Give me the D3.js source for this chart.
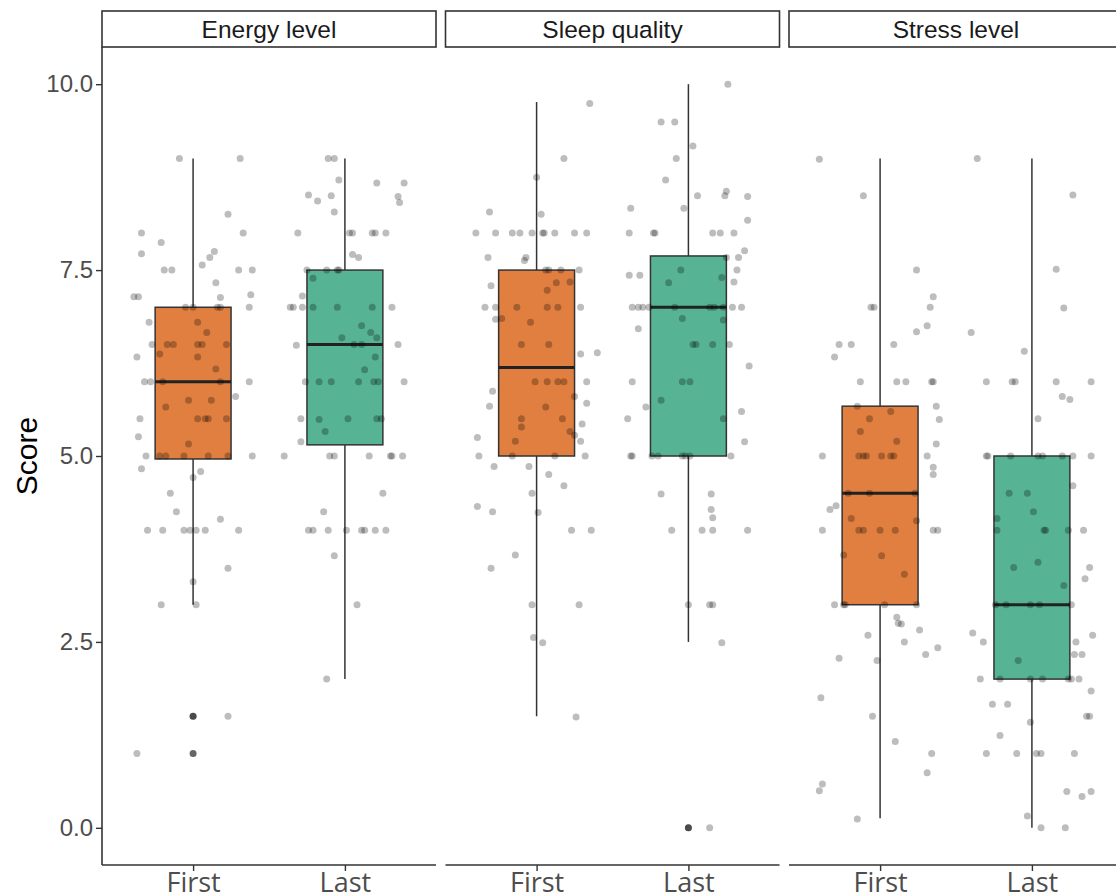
<!DOCTYPE html>
<html>
<head>
<meta charset="utf-8">
<script src="https://cdn.jsdelivr.net/npm/d3@7"></script>
<style>
  body { margin: 0; background: #fff; }
  svg { display: block; font-family: "Liberation Sans", Arial, sans-serif; }
</style>
</head>
<body>
<svg id="chart"></svg>
<script>
// facets and groups
var facets = ["Energy level", "Sleep quality", "Stress level"];
var times = ["First", "Last"];
var yTicks = [0, 2.5, 5, 7.5, 10];

// box statistics, order: facet x time
var whiskerLow  = [3.0, 2.0, 1.5, 2.5, 0.13, 0.0];
var boxQ1       = [4.96, 5.15, 5.0, 5.0, 3.0, 2.0];
var boxMedian   = [6.0, 6.5, 6.19, 7.0, 4.5, 3.0];
var boxQ3       = [7.0, 7.5, 7.5, 7.69, 5.67, 5.0];
var whiskerHigh = [9.0, 9.0, 9.76, 10.0, 9.0, 9.0];
var outliers    = [[1.5, 1.0], [], [], [0.0], [], []];

// jittered scores: [score, jitter in % of category step]
var energyFirst = [[9,-9],[9,31],[8.25,23],[8,-34],[8,33],[7.87,-21],[7.72,-34],[7.75,14],[7.67,11],[7.57,6],
  [7.5,-19],[7.5,-14],[7.5,30],[7.5,39],[7.33,15],[7.13,18],[7.17,38],[7.14,-39],[7.14,-36],[7,-5],[7,0],[7,16],
  [7,18],[7,37],[6.8,-29],[6.8,3],[6.66,9],[6.5,-27],[6.5,-17],[6.5,-13],[6.5,3],[6.5,6],[6.5,22],[6.37,-22],
  [6.33,3],[6.33,-37],[6.17,15],[6,-32],[6,-28],[6,-20],[6,18],[6,37],[5.8,28],[5.66,-18],[5.75,-3],[5.75,12],
  [5.5,-35],[5.5,3],[5.5,8],[5.5,10],[5.5,22],[5.26,-36],[5.16,-3],[5,-31],[5,-22],[5,-18],[5,-6],[5,10],[5,23],
  [5,39],[4.83,-34],[4.79,5],[4.71,0],[4.5,-15],[4.25,-11],[4.15,18],[4,-30],[4,-20],[4,-6],[4,-2],[4,2],[4,8],
  [4,30],[3.49,23],[3.31,0],[3,-21],[3,2],[1.5,0],[1.5,23],[1,-37]];
var energyLast = [[9,-11],[9,-7],[8.71,-4],[8.67,21],[8.67,39],[8.51,-24],[8.5,-9],[8.43,-18],[8.49,35],[8.41,36],
  [8.28,-7],[8,-31],[8,3],[8,5],[8,18],[8,20],[8,27],[7.71,5],[7.67,9],[7.5,-25],[7.5,-12],[7.5,-5],[7.5,-4],
  [7.39,-21],[7.15,-28],[7,-36],[7,-34],[7,-28],[7,-21],[7,-5],[7,18],[7,31],[6.75,11],[6.66,17],[6.59,21],
  [6.59,-2],[6.49,-32],[6.5,6],[6.5,11],[6.5,35],[6.33,20],[6.16,13],[6,-26],[6,-17],[6,-9],[6,9],[6,19],[6,22],
  [6,39],[5.5,-29],[5.49,-17],[5.5,2],[5.5,21],[5.5,24],[5.33,-13],[5.19,-29],[5,-40],[5,-10],[5,-7],[5,16],
  [5,30],[5,31],[5,38],[4.5,25],[4.25,-14],[4,-24],[4,-21],[4,-11],[4,1],[4,11],[4,13],[4,20],[4,27],[3.66,-7],
  [3,8],[2,-12]];
var sleepFirst = [[9.74,35],[9,18],[8.75,0],[8.28,-31],[8.25,3],[8,-40],[8,-27],[8,-16],[8,-11],[8,-3],[8,4],[8,5],
  [8,12],[8,25],[8,33],[7.67,-32],[7.67,-7],[7.63,-8],[7.5,6],[7.5,8],[7.5,16],[7.5,28],[7.29,-30],[7.33,13],
  [7.34,22],[7.23,7],[7,-34],[7,-27],[7,-13],[7,7],[7,14],[7,29],[6.84,-27],[6.85,-23],[6.8,-4],[6.5,-10],[6.5,8],
  [6.37,29],[6.39,40],[6,-1],[6,7],[6,14],[6,18],[6,33],[5.87,-29],[5.8,25],[5.67,-31],[5.66,6],[5.71,33],
  [5.5,-10],[5.5,17],[5.39,-10],[5.43,30],[5.33,22],[5.28,25],[5.25,-39],[5.2,-14],[5.2,29],[5,-38],[5,-16],
  [5,12],[5,32],[4.86,-28],[4.86,-5],[4.75,8],[4.6,18],[4.5,-3],[4.32,-39],[4.25,-29],[4.24,1],[4,23],[4,36],
  [3.67,-14],[3.49,-30],[3,-3],[3,28],[2.56,-2],[2.49,4],[1.49,26]];
var sleepLast = [[10,26],[9.49,-18],[9.49,-9],[9.17,3],[9,-8],[8.71,-15],[8.56,25],[8.5,24],[8.5,6],[8.49,39],
  [8.33,-38],[8.33,-3],[8.17,39],[8,-39],[8,-23],[8,-22],[8,16],[8,21],[8,30],[7.76,37],[7.67,25],[7.67,33],
  [7.43,-39],[7.43,-32],[7.5,-5],[7.5,32],[7.33,-13],[7.4,22],[7.34,30],[7,-37],[7,-33],[7,-30],[7,-26],[7,-9],
  [7,14],[7,17],[7,23],[7,29],[7,35],[6.71,-33],[6.85,-4],[6.83,23],[6.5,3],[6.5,5],[6.5,16],[6.5,27],[6.21,40],
  [6,-37],[6,-4],[6,1],[5.75,-18],[5.66,-28],[5.5,-40],[5.5,23],[5.6,35],[5.19,37],[5,-38],[5,-37],[5,-24],
  [5,-20],[5,-4],[5,-2],[5,1],[5,28],[4.49,-18],[4.49,15],[4.28,15],[4.17,16],[4,-11],[4,9],[4,16],[4,39],
  [3,0],[3,14],[3,16],[2.49,22],[0,0],[0,14]];
var stressFirst = [[8.99,-40],[8.5,-11],[7.5,24],[7.14,35],[7,33],[7,-6],[7,-4],[6.75,31],[6.67,24],[6.5,-27],
  [6.5,-19],[6.5,9],[6.33,-30],[6,-13],[6,11],[6,17],[6,34],[6,35],[5.67,-15],[5.67,37],[5.49,39],[5.5,-7],
  [5.6,7],[5.33,-13],[5.2,11],[5.16,37],[5,-38],[5,-14],[5,-11],[5,-9],[5,1],[5,7],[5,9],[5,31],[4.85,35],
  [4.75,35],[4.5,-21],[4.5,-7],[4.5,23],[4.28,-33],[4.33,-29],[4.16,-19],[4.13,24],[4,-38],[4,-14],[4,-11],[4,0],
  [4,10],[4,35],[4,38],[3.67,-24],[3.66,1],[3.41,16],[3,-30],[3,-24],[3,-23],[3,3],[3,24],[2.83,11],[2.75,12],
  [2.74,14],[2.66,26],[2.59,-8],[2.5,16],[2.42,38],[2.33,30],[2.28,-27],[2.25,-2],[1.75,-39],[1.5,-5],[1.16,10],
  [1,34],[0.74,31],[0.59,-38],[0.5,-40],[0.12,-15]];
var stressLast = [[9,-36],[8.51,27],[7.51,16],[6.99,21],[6.66,-40],[6.41,-5],[6,-30],[6,-13],[6,-11],[6,16],[6,39],
  [5.8,20],[5.76,25],[5.5,4],[5,-30],[5,-29],[5,-14],[5,4],[5,7],[5,20],[5,27],[5,39],[4.6,27],[4.5,-15],[4.5,-3],
  [4.25,1],[4.16,-23],[4,-23],[4,8],[4,9],[4,24],[4,34],[3.5,-12],[3.57,4],[3.5,38],[3.35,35],[3.26,21],[3,-24],
  [3,-17],[3,-1],[3,5],[3,26],[2.62,-39],[2.5,-32],[2.25,-9],[2.5,29],[2.33,28],[2.33,33],[2.59,40],[2,-34],
  [2,-21],[2,-1],[2,7],[2,24],[2,26],[2,31],[1.84,39],[1.66,-26],[1.66,-16],[1.42,-1],[1.5,36],[1.5,38],
  [1.24,-21],[1,-30],[1,-10],[1,3],[1,6],[1,28],[0.49,23],[0.42,33],[0.49,39],[0.16,-3],[0,6],[0,22]];
var groupPoints = [energyFirst, energyLast, sleepFirst, sleepLast, stressFirst, stressLast];

var timeColors = ["#E07F40", "#56B494"];

var screen = {width: 1116, height: 894};
var margins = {top: 47, left: 102};
var panel = {width: 334, height: 818, gap: 9.5, strip: 36};

var svg = d3.select("#chart")
    .attr("width", screen.width)
    .attr("height", screen.height);

var yScale = d3.scaleLinear()
    .domain([-0.5, 10.5])
    .range([panel.height, 0]);

var xScale = d3.scalePoint()
    .domain(times)
    .range([0, panel.width])
    .padding(0.6);

var step = xScale.step();
var boxW = step * 0.5;

// y axis title
svg.append("text")
    .attr("transform", "translate(37," + (margins.top + yScale(5)) + ") rotate(-90)")
    .attr("text-anchor", "middle")
    .attr("font-size", 30)
    .attr("fill", "#000")
    .text("Score");

facets.forEach(function(facet, fi)
{
    var px = margins.left + fi * (panel.width + panel.gap);
    var g = svg.append("g")
        .attr("transform", "translate(" + px + "," + margins.top + ")");

    // strip
    g.append("rect")
        .attr("x", 0).attr("y", -panel.strip)
        .attr("width", panel.width).attr("height", panel.strip)
        .attr("fill", "#fff").attr("stroke", "#333").attr("stroke-width", 1.6);
    g.append("text")
        .attr("x", panel.width / 2).attr("y", -panel.strip / 2)
        .attr("dy", "0.36em")
        .attr("text-anchor", "middle")
        .attr("font-size", 24.5)
        .attr("fill", "#1a1a1a")
        .text(facet);

    // x axis
    var xAxis = g.append("g")
        .attr("transform", "translate(0," + panel.height + ")")
        .call(d3.axisBottom(xScale).tickSize(6).tickPadding(2));
    xAxis.select(".domain").attr("stroke", "#333").attr("stroke-width", 1.6)
        .attr("d", "M0,0H" + panel.width);
    xAxis.selectAll(".tick line").attr("stroke", "#333").attr("stroke-width", 1.4);
    xAxis.selectAll("text").attr("font-size", 27).attr("fill", "#4d4d4d")
        .attr("font-family", "'Open Sans', 'Liberation Sans', sans-serif");

    if (fi === 0)
    {
        var yAxis = g.append("g")
            .call(d3.axisLeft(yScale).tickValues(yTicks).tickFormat(d3.format(".1f")).tickSize(6).tickPadding(3));
        yAxis.select(".domain").attr("stroke", "#333").attr("stroke-width", 1.6)
            .attr("d", "M0,0V" + panel.height);
        yAxis.selectAll(".tick line").attr("stroke", "#333").attr("stroke-width", 1.4);
        yAxis.selectAll("text").attr("font-size", 24).attr("fill", "#4d4d4d");
    }

    times.forEach(function(time, ti)
    {
        var k = fi * 2 + ti;
        var cx = xScale(time);

        // whiskers
        g.append("line")
            .attr("x1", cx).attr("x2", cx)
            .attr("y1", yScale(whiskerHigh[k])).attr("y2", yScale(boxQ3[k]))
            .attr("stroke", "#333").attr("stroke-width", 1.5);
        g.append("line")
            .attr("x1", cx).attr("x2", cx)
            .attr("y1", yScale(boxQ1[k])).attr("y2", yScale(whiskerLow[k]))
            .attr("stroke", "#333").attr("stroke-width", 1.5);

        // box
        g.append("rect")
            .attr("x", cx - boxW / 2)
            .attr("y", yScale(boxQ3[k]))
            .attr("width", boxW)
            .attr("height", yScale(boxQ1[k]) - yScale(boxQ3[k]))
            .attr("fill", timeColors[ti])
            .attr("stroke", "#333").attr("stroke-width", 1.5);

        // median
        g.append("line")
            .attr("x1", cx - boxW / 2).attr("x2", cx + boxW / 2)
            .attr("y1", yScale(boxMedian[k])).attr("y2", yScale(boxMedian[k]))
            .attr("stroke", "#222").attr("stroke-width", 3);

        // outliers
        g.selectAll(".outlier" + k)
            .data(outliers[k])
            .enter()
            .append("circle")
            .attr("cx", cx)
            .attr("cy", function(d) { return yScale(d); })
            .attr("r", 3.5)
            .attr("fill", "#000")
            .attr("fill-opacity", 0.6);

        // jittered points
        g.selectAll(".pt" + k)
            .data(groupPoints[k])
            .enter()
            .append("circle")
            .attr("cx", function(d) { return cx + d[1] / 100 * step; })
            .attr("cy", function(d) { return yScale(d[0]); })
            .attr("r", 3.5)
            .attr("fill", "#000")
            .attr("fill-opacity", 0.26);
    });
});
</script>
</body>
</html>
